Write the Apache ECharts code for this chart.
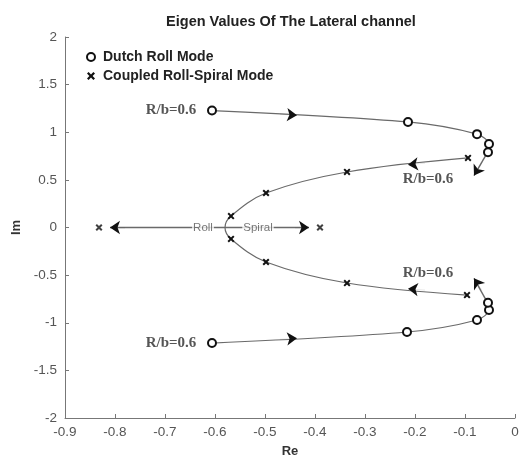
<!DOCTYPE html>
<html><head><meta charset="utf-8">
<script src="https://cdn.jsdelivr.net/npm/echarts@6/dist/echarts.min.js"></script>
<style>html,body{margin:0;padding:0;background:#fff}#c{width:524px;height:463px}</style>
</head><body><div id="c"></div>
<script>
// ---- data ----
const dutchUpper = [[-0.606,1.228],[-0.214,1.108],[-0.076,0.98],[-0.052,0.877],[-0.054,0.79]];
const dutchLower = [[-0.606,-1.213],[-0.216,-1.097],[-0.076,-0.971],[-0.052,-0.866],[-0.054,-0.79]];
const coupledCurve = [[-0.094,0.73],[-0.336,0.583],[-0.498,0.362],[-0.568,0.12],[-0.58,0],[-0.568,-0.12],[-0.498,-0.362],[-0.336,-0.583],[-0.096,-0.709]];
const coupledVertexIndex = 4;
const rollSpiralPoints = [[-0.832,0],[-0.39,0]];
// arrow shafts [from, to]
const arrowShafts = [
  [[-0.057,0.77],[-0.082,0.545]],
  [[-0.057,-0.77],[-0.082,-0.534]],
  [[-0.58,0],[-0.81,0]],
  [[-0.58,0],[-0.412,0]]
];
// arrowheads [tail, tip]
const arrowHeads = [
  [[-0.066,0.68],[-0.082,0.545]],
  [[-0.066,-0.66],[-0.082,-0.534]],
  [[-0.78,0],[-0.81,0]],
  [[-0.44,0],[-0.412,0]],
  [[-0.47,1.189],[-0.436,1.178]],
  [[-0.47,-1.174],[-0.436,-1.163]],
  [[-0.18,0.675],[-0.214,0.66]],
  [[-0.18,-0.657],[-0.214,-0.643]]
];
const rollSpiralLabels = [[-0.624,0,'Roll'],[-0.514,0,'Spiral']];
const rbLabels = [[-0.688,1.233,'R/b=0.6'],[-0.174,0.508,'R/b=0.6'],[-0.174,-0.478,'R/b=0.6'],[-0.688,-1.213,'R/b=0.6']];
const xMin = -0.9, xMax = 0, xStep = 0.1;
const yMin = -2, yMax = 2, yStep = 0.5;
const titleText = 'Eigen Values Of The Lateral channel';

const crossPath = 'path://M0,2 L2,0 L5,3 L8,0 L10,2 L7,5 L10,8 L8,10 L5,7 L2,10 L0,8 L3,5 Z';
const curveColor = '#6a6a6a';
const markColor = '#111';
const sans = 'Liberation Sans, Arial';

const chart = echarts.init(document.getElementById('c'));
chart.setOption({
  animation: false,
  title: { text: titleText, left: 286, top: 9, textAlign: 'center',
    textStyle: { fontFamily: sans, fontSize: 14.5, fontWeight: 'bold', color: '#222' } },
  legend: {
    orient: 'vertical', left: 81, top: 45, itemWidth: 8, itemHeight: 8, itemGap: 5,
    textStyle: { fontFamily: sans, fontSize: 14, fontWeight: 'bold', color: '#222', padding: [0, 0, 0, 3] },
    data: [
      { name: 'Dutch Roll Mode', icon: 'circle', itemStyle: { color: '#fff', borderColor: markColor, borderWidth: 2 } },
      { name: 'Coupled Roll-Spiral Mode', icon: crossPath, itemStyle: { color: markColor, borderWidth: 0 } }
    ],
    selectedMode: false
  },
  grid: { left: 65, right: 9, top: 37, bottom: 45 },
  xAxis: {
    type: 'value', min: xMin, max: xMax, interval: xStep,
    name: 'Re', nameLocation: 'middle', nameGap: 27,
    nameTextStyle: { fontFamily: sans, fontSize: 13, fontWeight: 'bold', color: '#333' },
    axisLine: { onZero: false, lineStyle: { color: '#777' } },
    axisTick: { inside: true, length: 4, lineStyle: { color: '#777' } },
    axisLabel: { color: '#555', fontFamily: sans, fontSize: 13.5, margin: 7,
      formatter: v => String(+v.toFixed(1)) },
    splitLine: { show: false }
  },
  yAxis: {
    type: 'value', min: yMin, max: yMax, interval: yStep,
    name: 'Im', nameLocation: 'middle', nameGap: 41, nameRotate: 90,
    nameTextStyle: { fontFamily: sans, fontSize: 13, fontWeight: 'bold', color: '#333' },
    axisLine: { show: true, onZero: false, lineStyle: { color: '#777' } },
    axisTick: { show: true, inside: true, length: 4, lineStyle: { color: '#777' } },
    axisLabel: { color: '#555', fontFamily: sans, fontSize: 13.5, margin: 8,
      formatter: v => String(+v.toFixed(1)) },
    splitLine: { show: false }
  },
  series: [
    { name: 'Dutch Roll Mode', type: 'line', data: dutchUpper, smooth: 0.3,
      symbol: 'emptyCircle', symbolSize: 8,
      lineStyle: { color: curveColor, width: 1.2 },
      itemStyle: { color: markColor, borderColor: markColor, borderWidth: 2 }, z: 3 },
    { name: 'Dutch Roll Mode', type: 'line', data: dutchLower, smooth: 0.3,
      symbol: 'emptyCircle', symbolSize: 8,
      lineStyle: { color: curveColor, width: 1.2 },
      itemStyle: { color: markColor, borderColor: markColor, borderWidth: 2 }, z: 3 },
    { name: 'Coupled Roll-Spiral Mode', type: 'line', smooth: 0.35,
      data: coupledCurve.map((p, i) => i === coupledVertexIndex ? { value: p, symbol: 'none' } : { value: p }),
      symbol: crossPath, symbolSize: 7,
      lineStyle: { color: curveColor, width: 1.2 },
      itemStyle: { color: markColor, borderWidth: 0 }, z: 3 },
    { name: 'Coupled Roll-Spiral Mode', type: 'scatter', data: rollSpiralPoints,
      symbol: crossPath, symbolSize: 7, itemStyle: { color: markColor }, z: 3 },
    { type: 'lines', coordinateSystem: 'cartesian2d', silent: true,
      data: arrowShafts.map(s => ({ coords: s })),
      symbol: ['none', 'none'],
      lineStyle: { color: curveColor, width: 1.4, opacity: 1 }, z: 2 },
    { type: 'lines', coordinateSystem: 'cartesian2d', silent: true,
      data: arrowHeads.map(s => ({ coords: s })),
      symbol: ['none', 'arrow'], symbolSize: [8, 10],
      lineStyle: { color: markColor, width: 0.1, opacity: 1 }, z: 4 },
    { type: 'scatter', silent: true, symbolSize: 0,
      data: rollSpiralLabels.map(l => ({ value: [l[0], l[1]], name: l[2] })),
      label: { show: true, position: 'inside', formatter: p => p.name,
        color: '#555', fontFamily: sans, fontSize: 11.5,
        backgroundColor: '#fff', padding: [0, 1] }, z: 5 },
    { type: 'scatter', silent: true, symbolSize: 0,
      data: rbLabels.map(l => ({ value: [l[0], l[1]], name: l[2] })),
      label: { show: true, position: 'inside', formatter: p => p.name,
        color: '#2a2a2a', fontFamily: 'Liberation Serif, Times New Roman', fontSize: 15, fontWeight: 'bold' }, z: 5 }
  ]
});
</script>
</body></html>
